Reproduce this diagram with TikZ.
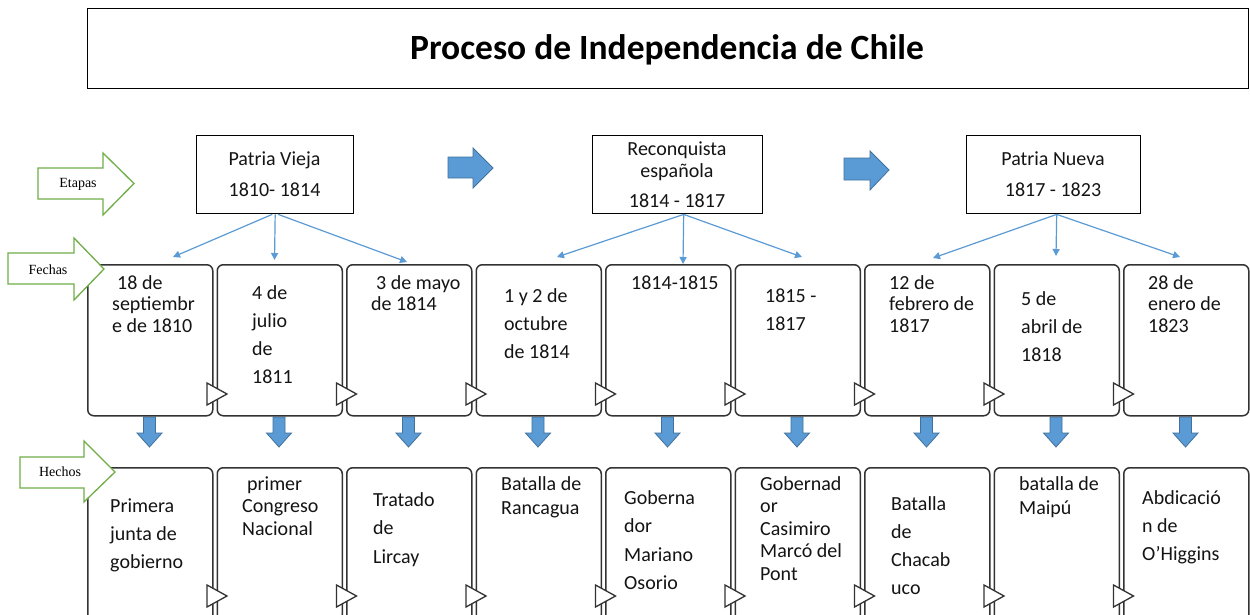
\documentclass[tikz,border=0pt]{standalone}
\usepackage{fontspec}
\setmainfont{Carlito}
\newfontfamily\serifl{Liberation Serif}
\usetikzlibrary{arrows.meta}
\definecolor{gr}{HTML}{70AD47}
\definecolor{bl}{HTML}{5B9BD5}
\definecolor{bld}{HTML}{41719C}
\definecolor{bx}{HTML}{333333}
\newcommand\lns[2]{\vtop{\baselineskip=#1\relax\halign{##\hfil\cr#2\crcr}}}
\newcommand\clns[2]{\vtop{\baselineskip=#1\relax\halign{\hfil##\hfil\cr#2\crcr}}}
\tikzset{
  cardbox/.style={draw=bx, line width=1.5pt, rounded corners=6pt, fill=white, minimum width=125pt, inner sep=0pt, anchor=north west},
  stagebox/.style={draw=black, line width=1.4pt, fill=white, minimum height=78pt, inner sep=0pt, anchor=north west},
  txt/.style={anchor=base west, inner sep=0pt, font=\fontsize{20}{24}\selectfont, text=black!92},
  ctxt/.style={anchor=base, inner sep=0pt, font=\fontsize{20}{24}\selectfont, text=black!92},
  greenarrow/.style={draw=gr, line width=1.3pt, fill=white, line join=miter},
  greenlbl/.style={inner sep=0pt, font=\serifl\fontsize{14}{16}\selectfont},
  bluearrow/.style={fill=bl, draw=bld, line width=0.8pt},
  conn/.style={draw=bl, line width=1.2pt, -{Triangle[length=7pt,width=7pt]}},
  tri/.style={draw=bx, line width=1.3pt, fill=white, line join=miter},
}
\begin{document}
\begin{tikzpicture}[x=1pt,y=-1pt]
\useasboundingbox (0,0) rectangle (1250,615);
\fill[white] (0,0) rectangle (1250,615);
% title
\node[draw=black, line width=1pt, minimum width=1161pt, minimum height=80pt, anchor=north west, inner sep=0pt] (titlebox) at (87,8) {};
\node[anchor=base, inner sep=0pt, font=\bfseries\fontsize{35.5}{40}\selectfont] (title) at (667,60) {Proceso de Independencia de Chile};
% Etapas arrow
\draw[greenarrow] (38,168) -- (103,168) -- (103,153) -- (134,183.5) -- (103,215) -- (103,199) -- (38,199) -- cycle;
\node[greenlbl] (etapas) at (78,184) {Etapas};
% stage boxes
\node[stagebox, minimum width=157pt] (pv) at (196,135) {};
\node[stagebox, minimum width=170pt] (re) at (592,135) {};
\node[stagebox, minimum width=174pt] (pn) at (966,135) {};
\node[ctxt] (pvt) at (274.5,165) {\clns{32pt}{Patria Vieja\cr 1810- 1814}};
\node[ctxt] (ret) at (677,155) {\clns{22pt}{Reconquista\cr española\cr\noalign{\vskip 8pt}1814 - 1817}};
\node[ctxt] (pnt) at (1053,165) {\clns{32pt}{Patria Nueva\cr 1817 - 1823}};
% blue right arrows
\draw[bluearrow] (448,157) -- (473,157) -- (473,148) -- (493,168) -- (473,188) -- (473,178) -- (448,178) -- cycle;
\draw[bluearrow] (844,158) -- (870,158) -- (870,151) -- (889,170) -- (870,190) -- (870,180) -- (844,180) -- cycle;
% down arrows
\foreach \i in {1,...,9}{
  \pgfmathsetmacro\cx{87+129.5*(\i-1)+62.5}
  \draw[bluearrow] (\cx-6,417) -- (\cx+6,417) -- (\cx+6,433) -- (\cx+12.5,433) -- (\cx,447) -- (\cx-12.5,433) -- (\cx-6,433) -- cycle;
}
% date boxes and fact boxes
\foreach \i in {1,...,9}{
  \pgfmathsetmacro\xl{87+129.5*(\i-1)}
  \node[cardbox, minimum height=151pt] (d\i) at (\xl,264) {};
  \node[cardbox, minimum height=153pt] (f\i) at (\xl,467) {};
}
\foreach \i in {1,...,8}{
  \pgfmathsetmacro\xr{87+129.5*(\i-1)+125}
  \draw[tri] (\xr-5,383) -- (\xr+15,394) -- (\xr-5,405) -- cycle;
  \draw[tri] (\xr-5,585) -- (\xr+15,596) -- (\xr-5,607) -- cycle;
}
% connectors
\coordinate (pv1) at (173,257);
\coordinate (pv2) at (274.5,260);
\coordinate (pv3) at (407,262);
\coordinate (re1) at (557,257);
\coordinate (re2) at (683,264);
\coordinate (re3) at (802,257);
\coordinate (pn1) at (933,258);
\coordinate (pn2) at (1056,256);
\coordinate (pn3) at (1180,257);
\draw[conn] ([xshift=-3pt]pv.south) -- (pv1);
\draw[conn] (pv.south) -- (pv2);
\draw[conn] ([xshift=3pt]pv.south) -- (pv3);
\draw[conn] ([xshift=6pt]re.south) -- (re1);
\draw[conn] ([xshift=6pt]re.south) -- (re2);
\draw[conn] ([xshift=6pt]re.south) -- (re3);
\draw[conn] ([xshift=3pt]pn.south) -- (pn1);
\draw[conn] ([xshift=3pt]pn.south) -- (pn2);
\draw[conn] ([xshift=3pt]pn.south) -- (pn3);
% Fechas and Hechos arrows
\draw[greenarrow] (8,253) -- (74,253) -- (74,238) -- (104,269) -- (74,300) -- (74,284) -- (8,284) -- cycle;
\node[greenlbl] (fechas) at (48,270) {Fechas};
\draw[greenarrow] (20,457) -- (84,457) -- (84,441) -- (115,472) -- (84,502) -- (84,488) -- (20,488) -- cycle;
\node[greenlbl] (hechos) at (60,472) {Hechos};
% date texts
\node[txt] (dt1) at (112,289) {\lns{21.5pt}{\kern5pt 18 de\cr septiembr\cr e de 1810}};
\node[txt] (dt2) at (252,299) {\lns{28.3pt}{4 de\cr julio\cr de\cr 1811}};
\node[txt] (dt3) at (371,289) {\lns{21.5pt}{\kern5pt 3 de mayo\cr de 1814}};
\node[txt] (dt4) at (504,302) {\lns{28.3pt}{1 y 2 de\cr octubre\cr de 1814}};
\node[txt] (dt5) at (631,289) {\lns{21.5pt}{1814-1815}};
\node[txt] (dt6) at (765,302) {\lns{28pt}{1815 -\cr 1817}};
\node[txt] (dt7) at (889,289) {\lns{21.5pt}{12 de\cr febrero de\cr 1817}};
\node[txt] (dt8) at (1021,305) {\lns{28pt}{5 de\cr abril de\cr 1818}};
\node[txt] (dt9) at (1148,289) {\lns{21.5pt}{28 de\cr enero de\cr 1823}};
% fact texts
\node[txt] (ft1) at (110,512) {\lns{28pt}{Primera\cr junta de\cr gobierno}};
\node[txt] (ft2) at (242,490) {\lns{22.5pt}{\kern5pt primer\cr Congreso\cr Nacional}};
\node[txt] (ft3) at (373,506) {\lns{28.5pt}{Tratado\cr de\cr Lircay}};
\node[txt] (ft4) at (501,490) {\lns{24pt}{Batalla de\cr Rancagua}};
\node[txt] (ft5) at (624,504) {\lns{28.5pt}{Goberna\cr dor\cr Mariano\cr Osorio}};
\node[txt] (ft6) at (760,490) {\lns{22.5pt}{Gobernad\cr or\cr Casimiro\cr Marcó del\cr Pont}};
\node[txt] (ft7) at (891,510) {\lns{28.3pt}{Batalla\cr de\cr Chacab\cr uco}};
\node[txt] (ft8) at (1019,490) {\lns{24pt}{batalla de\cr Maipú}};
\node[txt] (ft9) at (1142,504) {\lns{28pt}{Abdicació\cr n de\cr O’Higgins}};
\end{tikzpicture}
\end{document}
